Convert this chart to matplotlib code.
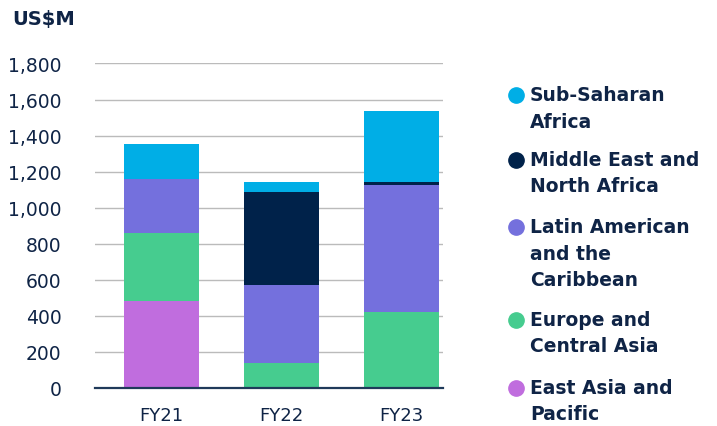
import numpy as np
import matplotlib
matplotlib.use("Agg")
import matplotlib.pyplot as plt
from matplotlib.lines import Line2D

# data (US$M)
years = ["FY21", "FY22", "FY23"]
east_asia = [485, 0, 0]
europe_ca = [375, 140, 423]
latin_am = [300, 432, 703]
mena = [0, 515, 17]
ssa = [195, 56, 393]

series = [
    ("East Asia and\nPacific", east_asia, "#C06DDE"),
    ("Europe and\nCentral Asia", europe_ca, "#46CC8F"),
    ("Latin American\nand the\nCaribbean", latin_am, "#7470DD"),
    ("Middle East and\nNorth Africa", mena, "#00224A"),
    ("Sub-Saharan\nAfrica", ssa, "#00AEE6"),
]

navy = "#0F2446"
plt.rcParams['font.family'] = ['DejaVu Sans']

fig = plt.figure(figsize=(7.17, 4.27), dpi=100)
ax = fig.add_axes([0.1325, 0.089, 0.4855, 0.76])

x = np.arange(len(years))
bottom = np.zeros(len(years))
for name, vals, col in series:
    ax.bar(x, vals, 0.625, bottom=bottom, color=col, zorder=3)
    bottom += np.array(vals)

ax.set_xlim(-0.55, 2.35)
ax.set_ylim(0, 1800)
ax.set_yticks(np.arange(0, 1801, 200))
ax.set_yticklabels([f"{v:,}" for v in range(0, 1801, 200)])
ax.set_xticks(x)
ax.set_xticklabels(years)
ax.tick_params(axis="y", length=0, pad=24, labelsize=13.5, labelcolor=navy)
ax.tick_params(axis="x", length=0, pad=13, labelsize=13, labelcolor=navy)
ax.grid(axis="y", color="#BBBBBB", linewidth=1.0, zorder=0)
for s in ["top", "right", "left"]:
    ax.spines[s].set_visible(False)
ax.spines["bottom"].set_color("#1F3A5A")
ax.spines["bottom"].set_linewidth(1.6)
ax.spines["bottom"].set_zorder(4)

fig.text(12 / 717, 1 - 20 / 427, "US$M", fontsize=14, fontweight="bold",
         color=navy, va="center", ha="left")

# legend, top entry first; dot sits beside the first line
legend_y = [96, 161, 228, 321, 389]
for (name, vals, col), ly in zip(series[::-1], legend_y):
    yf = 1 - ly / 427
    fig.add_artist(Line2D([516 / 717], [yf], marker="o", markersize=11,
                          color=col, linestyle="none"))
    fig.text(530 / 717, 1 - (ly - 10) / 427, name, fontsize=13.5,
             fontweight="bold", color=navy, va="top", ha="left",
             linespacing=1.5, transform=fig.transFigure)

fig.savefig("out.png", dpi=100)
